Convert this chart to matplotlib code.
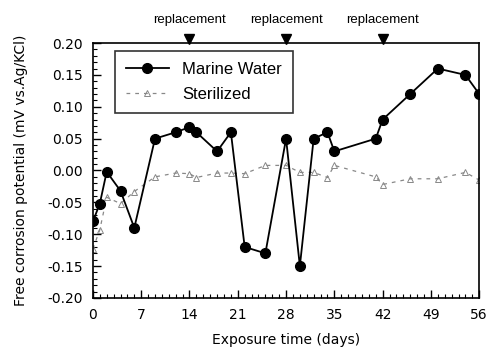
import matplotlib
matplotlib.use("Agg")
import matplotlib.pyplot as plt
from matplotlib.ticker import MultipleLocator

days = [0, 1, 2, 4, 6, 9, 12, 14, 15, 18, 20, 22, 25, 28, 30, 32, 34, 35, 41, 42, 46, 50, 54, 56]
marine = [-0.08, -0.052, -0.002, -0.032, -0.09, 0.05, 0.06, 0.068, 0.06, 0.03, 0.06, -0.12,
          -0.13, 0.05, -0.15, 0.05, 0.06, 0.03, 0.05, 0.08, 0.12, 0.16, 0.15, 0.12]
sterilized = [-0.123, -0.093, -0.042, -0.052, -0.033, -0.01, -0.004, -0.005, -0.011, -0.004,
              -0.004, -0.005, 0.008, 0.008, -0.003, -0.003, -0.011, 0.008, -0.01, -0.022,
              -0.013, -0.013, -0.003, -0.015]
replacement_days = [14, 28, 42]
xticks = [0, 7, 14, 21, 28, 35, 42, 49, 56]

plt.rcParams['font.family'] = ['DejaVu Sans']
fig = plt.figure(figsize=(4.89, 3.53), dpi=100)
ax = fig.add_axes([0.19, 0.156, 0.79, 0.722])

ax.plot(days, sterilized, linestyle=(0, (3, 4)), color='#888888', linewidth=0.9,
        marker='^', markersize=5, markerfacecolor='none', markeredgecolor='#888888',
        markeredgewidth=0.7, label='Sterilized', zorder=2)
ax.plot(days, marine, color='black', linewidth=1.3, marker='o', markersize=7,
        label='Marine Water', zorder=3)

ax.set_xlim(0, 56)
ax.set_ylim(-0.20, 0.20)
ax.set_xticks(xticks)
ax.xaxis.set_minor_locator(MultipleLocator(1))
ax.yaxis.set_major_locator(MultipleLocator(0.05))
ax.yaxis.set_minor_locator(MultipleLocator(0.01))
ax.tick_params(direction='in', which='major', length=6, width=1, labelsize=10)
ax.tick_params(axis='x', which='major', pad=7)
ax.tick_params(axis='y', which='major', pad=7)
ax.tick_params(direction='in', which='minor', length=3, width=0.8)
ax.set_yticklabels([f"{v:.2f}" for v in ax.get_yticks()])
for s in ax.spines.values():
    s.set_linewidth(1.2)

ax.set_xlabel('Exposure time (days)', fontsize=10, labelpad=8)
ax.set_ylabel('Free corrosion potential (mV vs.Ag/KCl)', fontsize=10, labelpad=14)

handles, labels = ax.get_legend_handles_labels()
leg = ax.legend(handles[::-1], labels[::-1], loc='upper left', bbox_to_anchor=(0.035, 1.0),
                prop={'family': 'Liberation Sans', 'size': 12}, frameon=True,
                fancybox=False, edgecolor='black',
                handlelength=2.6, borderpad=0.65, labelspacing=0.6)
leg.get_frame().set_linewidth(1.2)

for d in replacement_days:
    ax.plot([d], [0.206], marker='v', color='black', markersize=7, clip_on=False,
            transform=ax.transData)
    ax.text(d, 0.226, 'replacement', ha='center', va='bottom', fontsize=9.5,
            family='Liberation Sans')

fig.savefig('out.png', dpi=100)
